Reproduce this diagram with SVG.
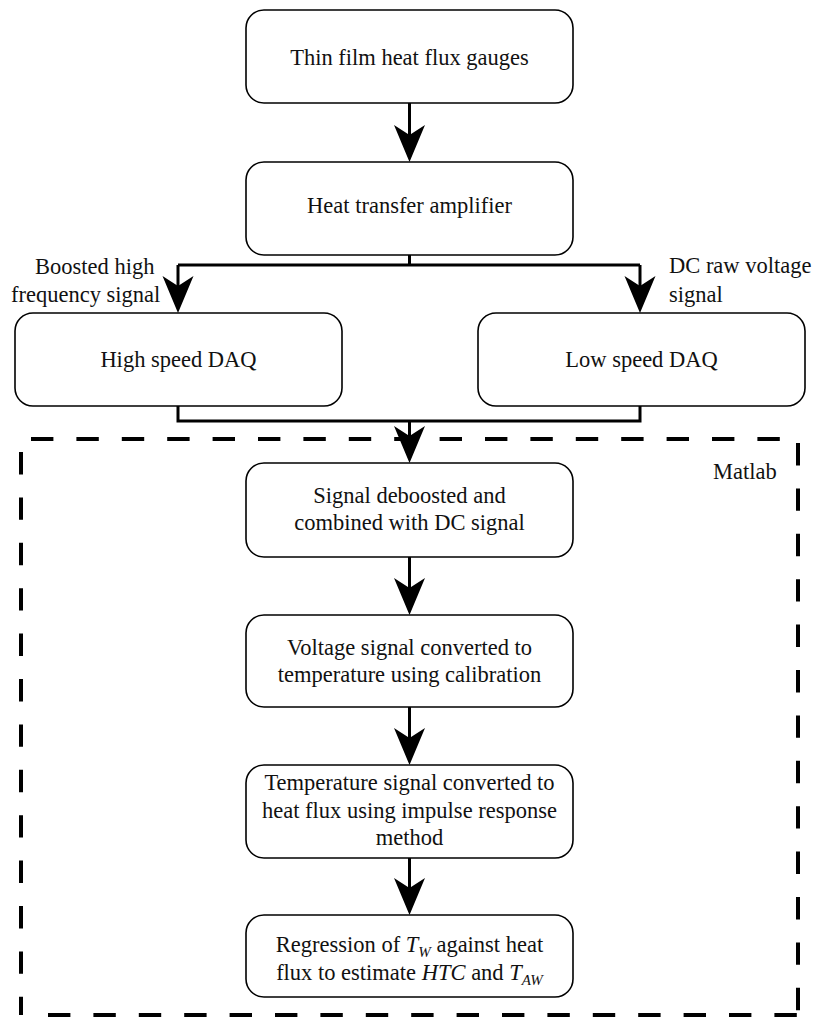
<svg xmlns="http://www.w3.org/2000/svg" width="814" height="1017" viewBox="0 0 814 1017">
<style>
.box{fill:#fff;stroke:#000;stroke-width:1.6}
.t{font-family:"Liberation Serif","Times New Roman",serif;font-size:22.5px;fill:#111}
.c{text-anchor:middle}
.con{fill:none;stroke:#000;stroke-width:3}
.dash{fill:none;stroke:#000;stroke-width:4;stroke-dasharray:22.4 23}
.i{font-style:italic}
.s{font-style:italic;font-size:15px}
</style>
<defs>
<marker id="ah" markerUnits="userSpaceOnUse" viewBox="-11 -16 39 32" markerWidth="39" markerHeight="32" refX="0" refY="0" orient="auto">
<path d="M-10,-15.5 L27,0 L-10,15.5 L0,0 Z" fill="#000"/>
</marker>
</defs>
<g id="matlab-region">
<path class="dash" d="M31,439 H798"/>
<path class="dash" d="M798,443 V1015"/>
<path class="dash" d="M21,452 V1015"/>
<path class="dash" d="M48,1015 H798"/>
<text class="t" x="713" y="479">Matlab</text>
</g>
<g id="connectors">
<path class="con" d="M409.5,103 V135" marker-end="url(#ah)"/>
<path class="con" d="M409.5,255 V265 M178,265 H640"/>
<path class="con" d="M178,265 V286" marker-end="url(#ah)"/>
<path class="con" d="M640,265 V286" marker-end="url(#ah)"/>
<path class="con" d="M178,406 V421 H640 V406"/>
<path class="con" d="M409.5,421 V436" marker-end="url(#ah)"/>
<path class="con" d="M409.5,557 V588" marker-end="url(#ah)"/>
<path class="con" d="M409.5,707 V738" marker-end="url(#ah)"/>
<path class="con" d="M409.5,858 V888" marker-end="url(#ah)"/>
<text class="t" x="35" y="274">Boosted high</text>
<text class="t" x="11" y="302">frequency signal</text>
<text class="t" x="669" y="273">DC raw voltage</text>
<text class="t" x="669" y="302">signal</text>
</g>
<g id="gauges">
<rect class="box" x="246" y="10" width="327" height="93" rx="18"/>
<text class="t c" x="409.5" y="65">Thin film heat flux gauges</text>
</g>
<g id="amplifier">
<rect class="box" x="246" y="162" width="327" height="93" rx="18"/>
<text class="t c" x="409.5" y="213">Heat transfer amplifier</text>
</g>
<g id="high-daq">
<rect class="box" x="15" y="313" width="327" height="93" rx="18"/>
<text class="t c" x="178.5" y="367">High speed DAQ</text>
</g>
<g id="low-daq">
<rect class="box" x="478" y="313" width="327" height="93" rx="18"/>
<text class="t c" x="641.5" y="367">Low speed DAQ</text>
</g>
<g id="deboost">
<rect class="box" x="246" y="463" width="327" height="94" rx="18"/>
<text class="t c" x="409.5" y="503">Signal deboosted and</text>
<text class="t c" x="409.5" y="530">combined with DC signal</text>
</g>
<g id="voltage">
<rect class="box" x="246" y="615" width="327" height="92" rx="18"/>
<text class="t c" x="409.5" y="655">Voltage signal converted to</text>
<text class="t c" x="409.5" y="682">temperature using calibration</text>
</g>
<g id="heatflux">
<rect class="box" x="246" y="765" width="327" height="93" rx="18"/>
<text class="t c" x="409.5" y="790">Temperature signal converted to</text>
<text class="t c" x="409.5" y="817.5">heat flux using impulse response</text>
<text class="t c" x="409.5" y="845">method</text>
</g>
<g id="regression">
<rect class="box" x="246" y="915" width="327" height="82" rx="18"/>
<text class="t c" x="409.5" y="952">Regression of <tspan class="i">T</tspan><tspan class="s" dy="5">W</tspan><tspan dy="-5"> against heat</tspan></text>
<text class="t c" x="409.5" y="980">flux to estimate <tspan class="i">HTC</tspan> and <tspan class="i">T</tspan><tspan class="s" dy="5">AW</tspan></text>
</g>
</svg>
